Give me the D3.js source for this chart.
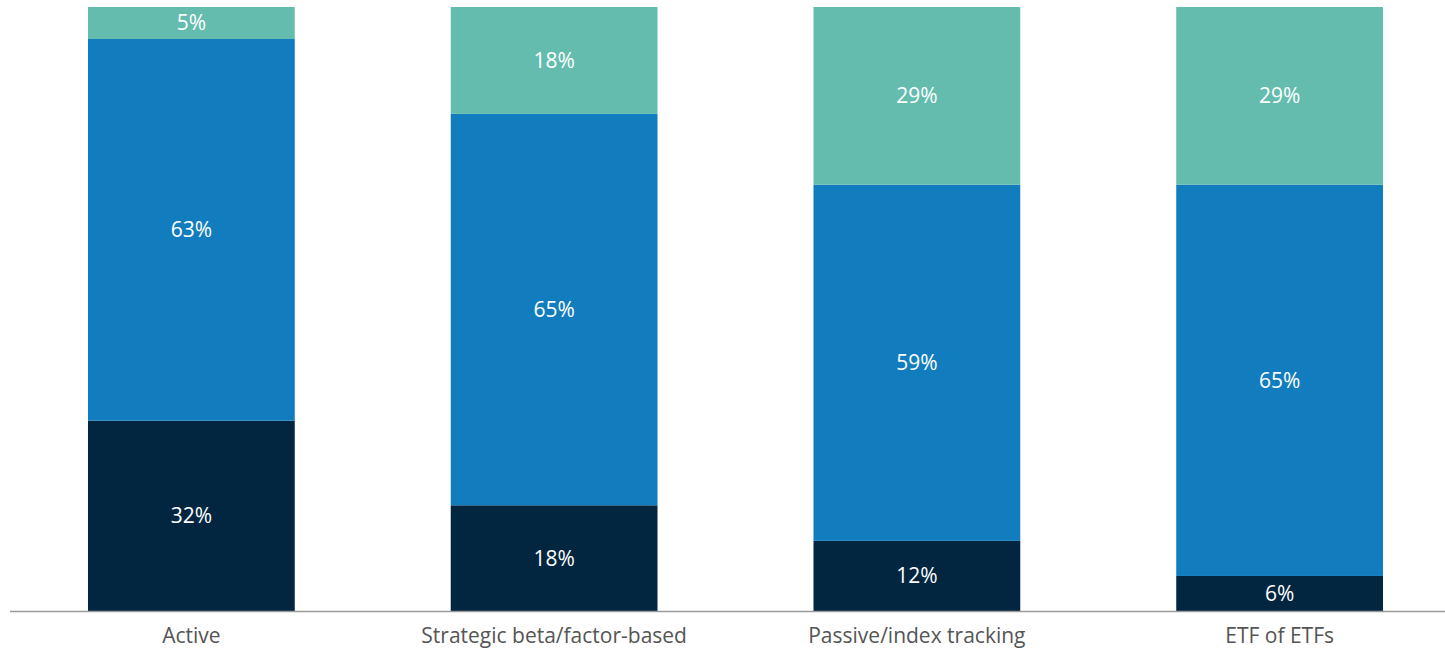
<!DOCTYPE html>
<html>
<head>
<meta charset="utf-8">
<script src="https://cdn.jsdelivr.net/npm/d3@7"></script>
<style>
  body { margin: 0; background: #fff; }
  svg { display: block; font-family: "Open Sans", sans-serif; }
</style>
</head>
<body>
<script>
// chart data (shares in %, labels are rounded)
var categories = ["Active", "Strategic beta/factor-based", "Passive/index tracking", "ETF of ETFs"];
var seriesKeys = ["bottom", "middle", "top"];
var bottomValues = [31.5, 17.5, 11.6, 5.8];
var middleValues = [63.2, 64.8, 58.9, 64.8];
var topValues = [5.3, 17.7, 29.4, 29.4];
var seriesColors = ["#022640", "#127dbe", "#64bcaf"];

function drawChart() {
    var width = 1445;
    var height = 652;

    var rows = categories.map(function(c, i) {
        return { category: c, bottom: bottomValues[i], middle: middleValues[i], top: topValues[i] };
    });

    // every bar fills to 100%
    var stacked = d3.stack()
        .keys(seriesKeys)
        .offset(d3.stackOffsetExpand)(rows);

    var xScale = d3.scaleBand()
        .domain(categories)
        .range([10, 1461])
        .paddingInner(0.43)
        .paddingOuter(0.215);

    var yScale = d3.scaleLinear()
        .domain([0, 1])
        .range([611, 7]);

    var color = d3.scaleOrdinal()
        .domain(seriesKeys)
        .range(seriesColors);

    var svg = d3.select("body")
        .append("svg")
        .attr("width", width)
        .attr("height", height);

    var layers = svg.selectAll("g.layer")
        .data(stacked)
        .enter()
        .append("g")
        .attr("class", "layer")
        .attr("fill", function(d) { return color(d.key); });

    layers.selectAll("rect")
        .data(function(d) { return d; })
        .enter()
        .append("rect")
        .attr("x", function(d) { return xScale(d.data.category); })
        .attr("y", function(d) { return yScale(d[1]); })
        .attr("width", xScale.bandwidth())
        .attr("height", function(d) { return yScale(d[0]) - yScale(d[1]); });

    layers.selectAll("text")
        .data(function(d) {
            return d.map(function(p) { p.key = d.key; return p; });
        })
        .enter()
        .append("text")
        .attr("x", function(d) { return xScale(d.data.category) + xScale.bandwidth() / 2; })
        .attr("y", function(d) { return (yScale(d[0]) + yScale(d[1])) / 2; })
        .attr("dy", "0.35em")
        .attr("text-anchor", "middle")
        .attr("fill", "#fff")
        .style("font-size", "21px")
        .text(function(d) { return Math.round(d.data[d.key]) + "%"; });

    // baseline axis
    var xAxis = svg.append("g")
        .attr("transform", "translate(0,611)")
        .call(d3.axisBottom(xScale).tickSize(0).tickPadding(17));

    xAxis.select(".domain")
        .attr("d", "M10,0.5H" + width)
        .attr("stroke", "#9a9a9a")
        .attr("stroke-width", 1.5);

    xAxis.selectAll("text")
        .attr("fill", "#555")
        .style("font-family", "'Open Sans', sans-serif")
        .style("font-size", "21px");
}

drawChart();
</script>
</body>
</html>
